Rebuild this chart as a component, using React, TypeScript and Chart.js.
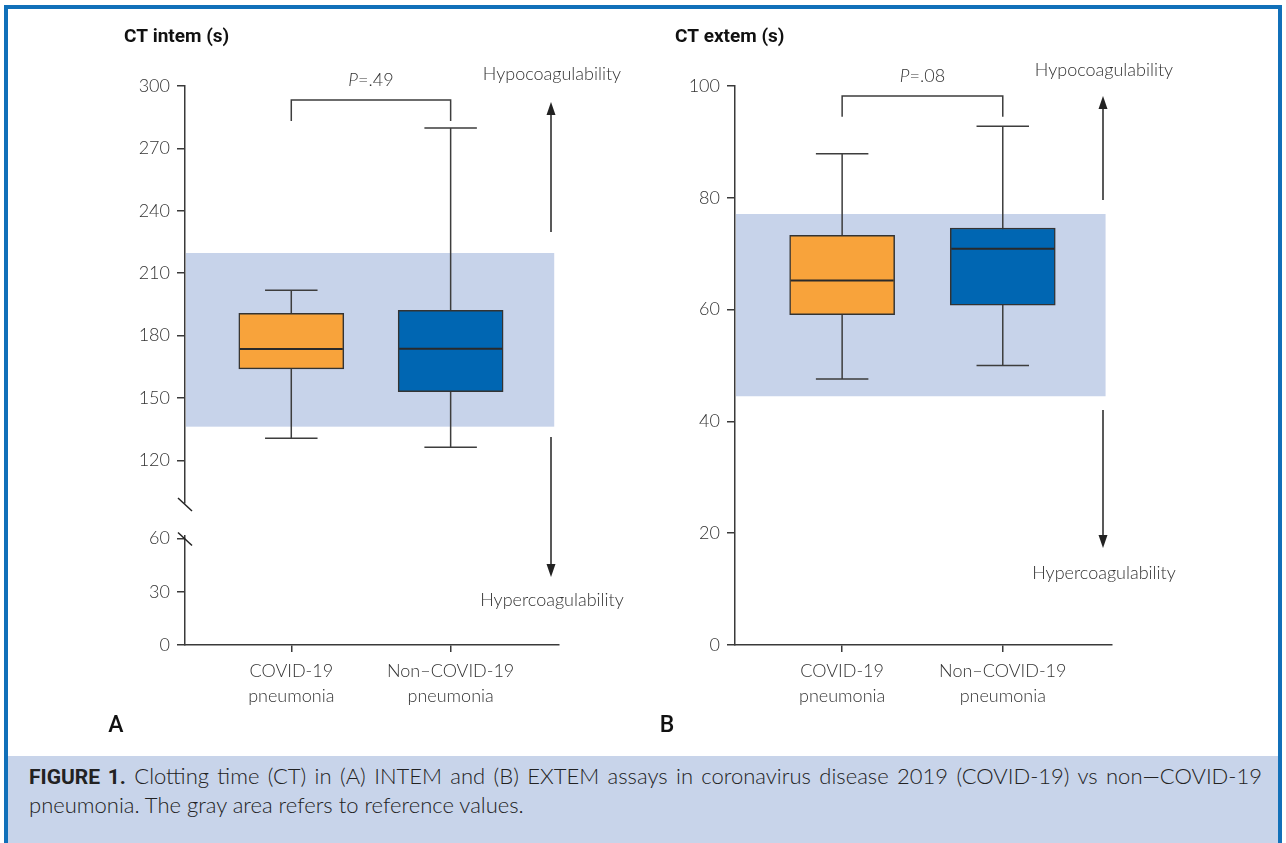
import React, { useEffect, useRef } from 'react';
import { Chart, registerables } from 'chart.js';

Chart.register(...registerables);

// ---------- data ----------
const categories: string[][] = [['COVID-19', 'pneumonia'], ['Non–COVID-19', 'pneumonia']];
const categoryPositions = [1, 2];
const boxColors = ['#F8A33B', '#0066B2'];

// Panel A: CT INTEM (s)
const intemMin = [130.6, 126.3];
const intemQ1 = [164.0, 153.0];
const intemMedian = [173.5, 173.7];
const intemQ3 = [190.7, 192.1];
const intemMax = [201.8, 279.8];
const intemReference = [136.2, 219.7];
const intemBracket = [293.3, 283.2];
const intemPValue = '.49';
const intemUpperTicks = [120, 150, 180, 210, 240, 270, 300];
const intemLowerTicks = [0, 30, 60];

// Panel B: CT EXTEM (s)
const extemMin = [47.6, 50.0];
const extemQ1 = [59.1, 60.8];
const extemMedian = [65.2, 70.9];
const extemQ3 = [73.3, 74.6];
const extemMax = [87.9, 92.8];
const extemReference = [44.5, 77.1];
const extemBracket = [98.2, 94.5];
const extemPValue = '.08';
const extemTicks = [0, 20, 40, 60, 80, 100];

// ---------- styling ----------
const AXIS = '#3a3a3a';
const TEXT = '#333333';
const BAND = '#C7D3EA';
const FONT = 'Lato, "Open Sans", sans-serif';

type PanelData = {
  min: number[]; q1: number[]; median: number[]; q3: number[]; max: number[];
  reference: number[]; bracket: number[]; pValue: string;
};
type PanelLayout = {
  title: string; letter: string; titleDx: number; letterDx: number;
  arrowDx: number; upTail: number; upTip: number; hypoY: number;
  downTail: number; downTip: number; hyperY: number; bandEnd: number;
  broken: boolean;
};

function arrow(ctx: CanvasRenderingContext2D, x: number, y0: number, y1: number) {
  const dir = y1 > y0 ? 1 : -1;
  const head = 13;
  ctx.beginPath();
  ctx.moveTo(x, y0);
  ctx.lineTo(x, y1 - dir * head + dir * 2);
  ctx.stroke();
  ctx.beginPath();
  ctx.moveTo(x, y1);
  ctx.lineTo(x - 4.5, y1 - dir * head);
  ctx.lineTo(x + 4.5, y1 - dir * head);
  ctx.closePath();
  ctx.fill();
}

function makePlugin(d: PanelData, L: PanelLayout) {
  return {
    id: 'panelDecor',
    beforeDatasetsDraw(chart: any) {
      const { ctx, chartArea: a, scales } = chart;
      const x = scales.x, y = scales.y;
      ctx.save();
      ctx.fillStyle = BAND;
      const yt = y.getPixelForValue(d.reference[1]);
      const yb = y.getPixelForValue(d.reference[0]);
      const xr = x.getPixelForValue(L.bandEnd);
      ctx.fillRect(a.left + 1, yt, xr - a.left - 1, yb - yt);
      // whiskers
      const meta = chart.getDatasetMeta(0);
      ctx.strokeStyle = '#3d3d3d';
      ctx.lineWidth = 1.5;
      categoryPositions.forEach((c, i) => {
        const cx = x.getPixelForValue(c);
        const hw = meta.data[i].width / 4;
        const yMax = y.getPixelForValue(d.max[i]);
        const yMin = y.getPixelForValue(d.min[i]);
        ctx.beginPath();
        ctx.moveTo(cx, yMax); ctx.lineTo(cx, yMin);
        ctx.moveTo(cx - hw, yMax); ctx.lineTo(cx + hw, yMax);
        ctx.moveTo(cx - hw, yMin); ctx.lineTo(cx + hw, yMin);
        ctx.stroke();
      });
      ctx.restore();
    },
    afterDatasetsDraw(chart: any) {
      const { ctx, scales } = chart;
      const y = scales.y;
      const meta = chart.getDatasetMeta(0);
      ctx.save();
      ctx.strokeStyle = '#2a2a2a';
      ctx.lineWidth = 2;
      categoryPositions.forEach((c, i) => {
        const bar = meta.data[i];
        const ym = y.getPixelForValue(d.median[i]);
        ctx.beginPath();
        ctx.moveTo(bar.x - bar.width / 2 + 1, ym);
        ctx.lineTo(bar.x + bar.width / 2 - 1, ym);
        ctx.stroke();
      });
      ctx.restore();
    },
    afterDraw(chart: any) {
      const { ctx, chartArea: a, scales } = chart;
      const x = scales.x, y = scales.y;
      ctx.save();
      // bracket
      const x1 = x.getPixelForValue(categoryPositions[0]);
      const x2 = x.getPixelForValue(categoryPositions[1]);
      const yBar = y.getPixelForValue(d.bracket[0]);
      const yLeg = y.getPixelForValue(d.bracket[1]);
      ctx.strokeStyle = '#3d3d3d';
      ctx.lineWidth = 1.5;
      ctx.beginPath();
      ctx.moveTo(x1, yLeg); ctx.lineTo(x1, yBar); ctx.lineTo(x2, yBar); ctx.lineTo(x2, yLeg);
      ctx.stroke();
      // P value
      ctx.fillStyle = TEXT;
      ctx.textBaseline = 'middle';
      const pFont = `italic 300 18px ${FONT}`;
      const rFont = `300 18px ${FONT}`;
      ctx.font = pFont;
      const wP = ctx.measureText('P').width;
      ctx.font = rFont;
      const wR = ctx.measureText('=' + d.pValue).width;
      const sx = (x1 + x2) / 2 - (wP + wR) / 2;
      const py = yBar - 20;
      ctx.textAlign = 'left';
      ctx.font = pFont; ctx.fillText('P', sx, py);
      ctx.font = rFont; ctx.fillText('=' + d.pValue, sx + wP, py);
      // arrows
      const ax = a.right + L.arrowDx;
      ctx.strokeStyle = '#222';
      ctx.fillStyle = '#222';
      ctx.lineWidth = 1.5;
      arrow(ctx, ax, a.top + L.upTail, a.top + L.upTip);
      arrow(ctx, ax, a.top + L.downTail, a.top + L.downTip);
      ctx.fillStyle = TEXT;
      ctx.textAlign = 'center';
      ctx.font = rFont;
      ctx.fillText('Hypocoagulability', ax + 1, a.top + L.hypoY);
      ctx.fillText('Hypercoagulability', ax + 1, a.top + L.hyperY);
      // title & panel letter
      ctx.fillStyle = '#111';
      ctx.textAlign = 'left';
      ctx.font = `bold 19px Roboto, ${FONT}`;
      ctx.fillText(L.title, a.left + L.titleDx, 37);
      ctx.textAlign = 'center';
      ctx.font = `500 23px Roboto, ${FONT}`;
      ctx.fillText(L.letter, a.left + L.letterDx, 726);
      // axis break marks
      if (L.broken) {
        const lo = scales.yLow;
        ctx.strokeStyle = '#222';
        ctx.lineWidth = 1.5;
        const bx = y.right;
        [y.bottom + 1.5, lo.top + 3].forEach((by: number) => {
          ctx.beginPath();
          ctx.moveTo(bx - 7, by - 6.5);
          ctx.lineTo(bx + 7, by + 6.5);
          ctx.stroke();
        });
      }
      ctx.restore();
    },
  };
}

const tickFont = { family: FONT, size: 18, weight: '300' as any };

function yAxis(ticks: number[], min: number, max: number, extra: any = {}) {
  return {
    type: 'linear', position: 'left', min, max,
    afterBuildTicks: (s: any) => { s.ticks = ticks.map((v) => ({ value: v })); },
    afterFit: (s: any) => { s.width = 60; },
    ticks: { font: tickFont, color: TEXT, padding: 7 },
    grid: { drawOnChartArea: false, drawTicks: true, tickLength: 8, color: AXIS, lineWidth: 1.5 },
    border: { display: true, color: AXIS, width: 1.5, z: 1 },
    ...extra,
  };
}

function xAxis() {
  return {
    type: 'linear', position: 'bottom', min: 0.333, max: 2.68, offset: false,
    afterBuildTicks: (s: any) => { s.ticks = categoryPositions.map((v) => ({ value: v })); },
    afterFit: (s: any) => { s.height = 60; },
    ticks: {
      callback: (v: number) => categories[categoryPositions.indexOf(v)] ?? '',
      font: { ...tickFont, lineHeight: 25 / 18 }, color: TEXT, padding: 7,
      maxRotation: 0, autoSkip: false,
    },
    grid: { offset: false, drawOnChartArea: false, drawTicks: true, tickLength: 7, color: AXIS, lineWidth: 1.5 },
    border: { display: true, color: AXIS, width: 1.5, z: 1 },
  };
}

function Panel({ left, data, layout, scales, padding }: any) {
  const ref = useRef<HTMLCanvasElement | null>(null);
  useEffect(() => {
    if (!ref.current) return;
    const chart = new Chart(ref.current, {
      type: 'bar',
      data: {
        datasets: [{
          data: categoryPositions.map((c, i) => ({ x: c, y: [data.q1[i], data.q3[i]] })) as any,
          backgroundColor: boxColors,
          borderColor: '#333',
          borderWidth: 1.5,
          borderSkipped: false,
          barThickness: 105,
          xAxisID: 'x',
          yAxisID: 'y',
        } as any],
      },
      options: {
        responsive: false,
        animation: false,
        layout: { padding },
        plugins: { legend: { display: false }, tooltip: { enabled: false }, title: { display: false } },
        scales,
      } as any,
      plugins: [makePlugin(data, layout)],
    });
    return () => chart.destroy();
  }, []);
  return (
    <canvas ref={ref} width={643} height={757}
      style={{ position: 'absolute', left, top: 0, width: 643, height: 757 }} />
  );
}

export default function App() {
  const intemData: PanelData = {
    min: intemMin, q1: intemQ1, median: intemMedian, q3: intemQ3, max: intemMax,
    reference: intemReference, bracket: intemBracket, pValue: intemPValue,
  };
  const extemData: PanelData = {
    min: extemMin, q1: extemQ1, median: extemMedian, q3: extemQ3, max: extemMax,
    reference: extemReference, bracket: extemBracket, pValue: extemPValue,
  };
  const intemLayout: PanelLayout = {
    title: 'CT intem (s)', letter: 'A', titleDx: -61, letterDx: -69,
    arrowDx: -8, upTail: 146, upTip: 16, hypoY: -12, downTail: 351, downTip: 491, hyperY: 514,
    bandEnd: 2.65, broken: true,
  };
  const extemLayout: PanelLayout = {
    title: 'CT extem (s)', letter: 'B', titleDx: -60, letterDx: -68,
    arrowDx: -9, upTail: 114, upTip: 10, hypoY: -16, downTail: 324, downTip: 462, hyperY: 487,
    bandEnd: 2.64, broken: false,
  };
  const intemScales = {
    x: xAxis(),
    yLow: yAxis(intemLowerTicks, 0, 61.5, { stack: 'ct', stackWeight: 109, weight: 1 }),
    yGap: {
      type: 'linear', position: 'left', min: 0, max: 1, stack: 'ct', stackWeight: 33, weight: 2,
      display: true, afterFit: (s: any) => { s.width = 60; },
      ticks: { display: false }, grid: { display: false }, border: { display: false },
    },
    y: yAxis(intemUpperTicks, 99.5, 300, { stack: 'ct', stackWeight: 417, weight: 3 }),
  };
  const extemScales = {
    x: xAxis(),
    y: yAxis(extemTicks, 0, 100),
  };
  return (
    <div style={{ position: 'fixed', left: 0, top: 0, width: 1286, height: 843, background: '#fff', overflow: 'hidden' }}>
      <div style={{ position: 'absolute', left: 8, top: 756, width: 1270, height: 87, background: '#C8D4EA' }} />
      <Panel left={0} data={intemData} layout={intemLayout} scales={intemScales}
        padding={{ left: 125, top: 86, right: 84, bottom: 52 }} />
      <Panel left={643} data={extemData} layout={extemLayout} scales={extemScales}
        padding={{ left: 32, top: 86, right: 174, bottom: 52 }} />
      <div style={{ position: 'absolute', left: 29, top: 762, width: 1233, fontFamily: FONT, fontWeight: 300, fontSize: 22, color: '#222', lineHeight: '28px' }}>
        <div style={{ textAlign: 'justify', textAlignLast: 'justify', whiteSpace: 'nowrap' as any }}>
          <span style={{ fontFamily: 'Roboto, sans-serif', fontWeight: 700, fontSize: 21 }}>FIGURE 1.</span> Clotting time (CT) in (A) INTEM and (B) EXTEM assays in coronavirus disease 2019 (COVID-19) vs non—COVID-19
        </div>
        <div>pneumonia. The gray area refers to reference values.</div>
      </div>
      <div style={{ position: 'absolute', left: 4, top: 5, width: 1278, height: 900, boxSizing: 'border-box', borderTop: '4px solid #1170B9', borderLeft: '4px solid #1170B9', borderRight: '4px solid #1170B9', pointerEvents: 'none' }} />
    </div>
  );
}
